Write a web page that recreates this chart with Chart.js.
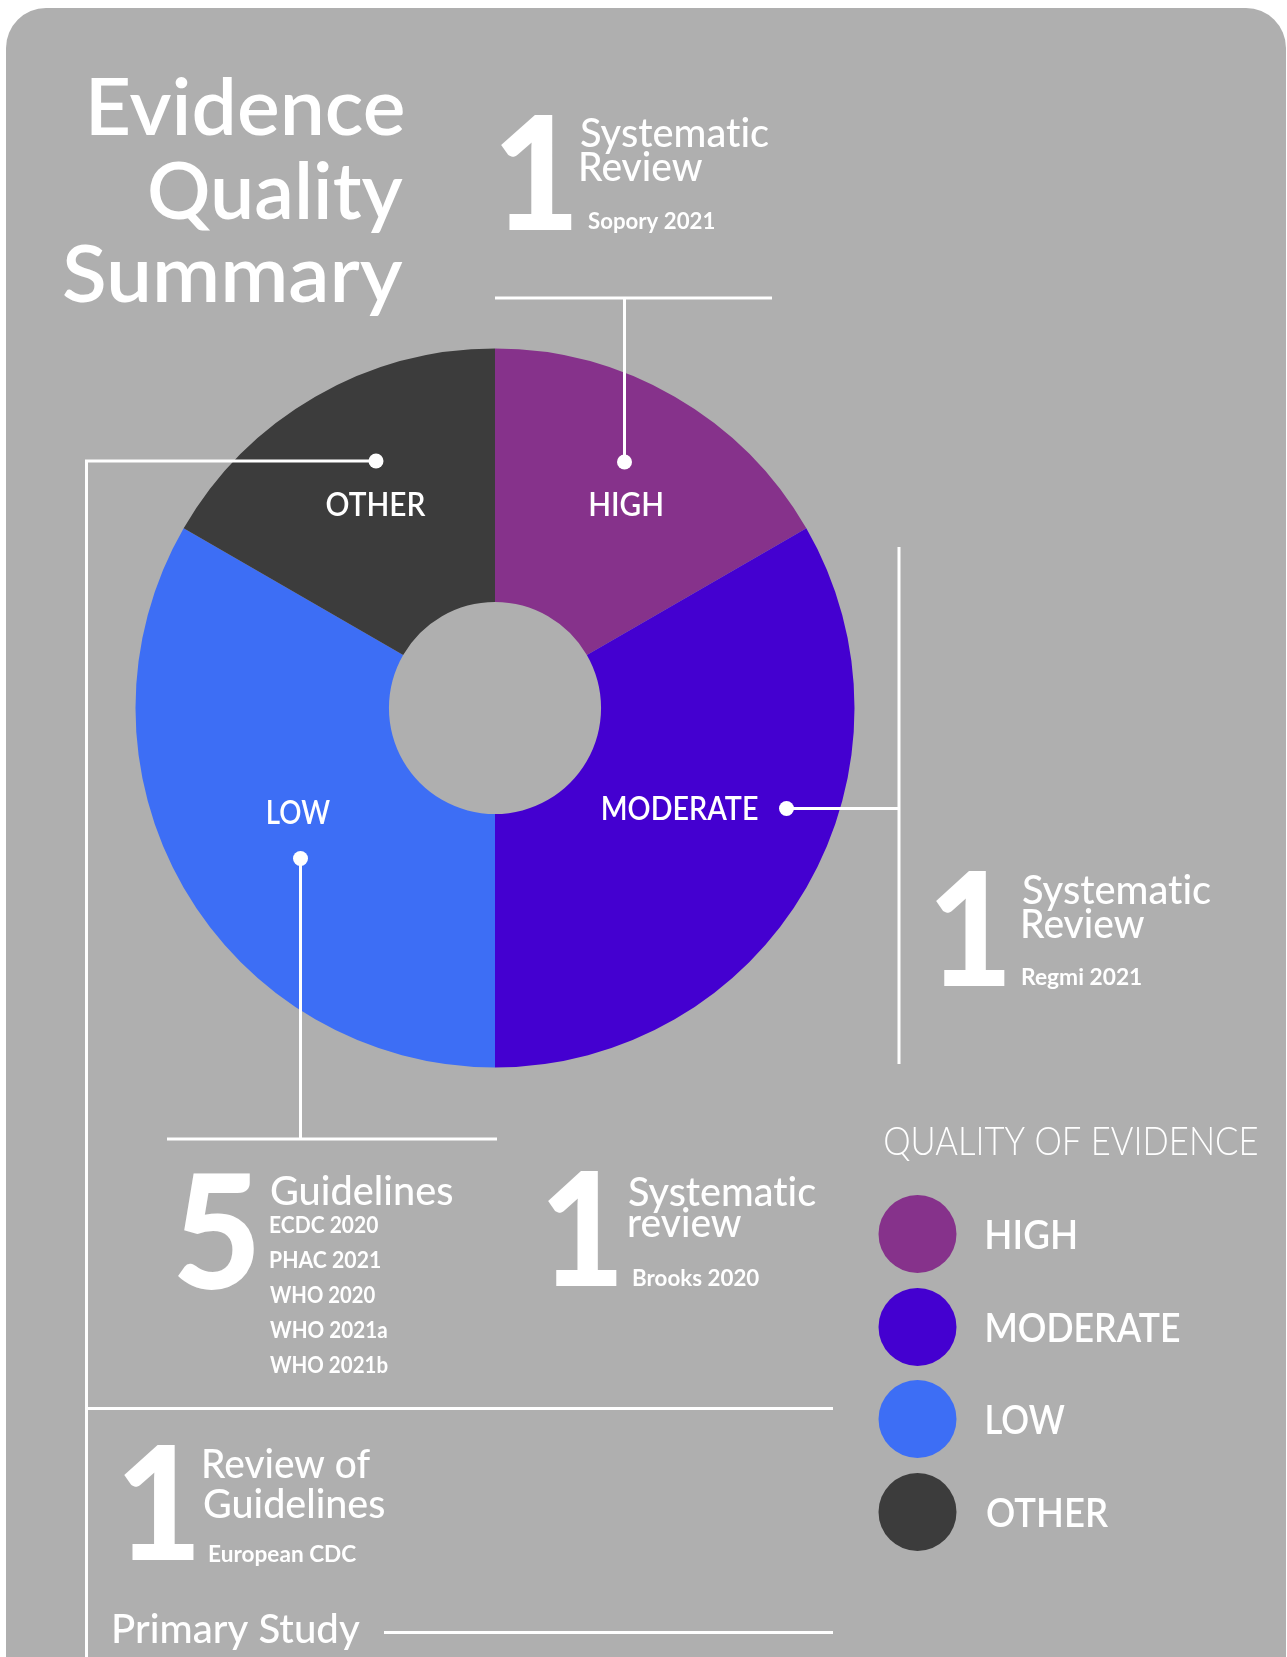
<!DOCTYPE html>
<html>
<head>
<meta charset="utf-8">
<title>Evidence Quality Summary</title>
<script src="https://cdn.jsdelivr.net/npm/chart.js@4.4.1/dist/chart.umd.min.js"></script>
<style>
  html, body { margin: 0; padding: 0; background: #fff; }
  #wrap { position: relative; width: 1287px; height: 1657px; overflow: hidden; }
  canvas { display: block; }
</style>
</head>
<body>
<div id="wrap"><canvas id="evidenceChart" width="1287" height="1657"></canvas></div>
<script>
// Quality of evidence: share of the ring for each grade
const categories = ['HIGH', 'MODERATE', 'LOW', 'OTHER'];
const shares = [1, 2, 2, 1];
const sliceColors = ['#86328b', '#4400d0', '#3d6ef5', '#3c3c3c'];

// Sources listed under each grade
const highSources = ['Sopory 2021'];
const moderateSources = ['Regmi 2021'];
const lowGuidelines = ['ECDC 2020', 'PHAC 2021', 'WHO 2020', 'WHO 2021a', 'WHO 2021b'];
const lowReviews = ['Brooks 2020'];
const otherReviews = ['European CDC'];

const FONT = 'Lato, "Noto Sans", sans-serif';
const PANEL = '#afafaf';

// draws text so that its ink spans exactly w pixels starting at x (or ending at x)
function fitText(ctx, s, x, y, font, w, align) {
  ctx.font = font + ' ' + FONT;
  // a tiny letter spacing keeps Lato from joining "ti" into a ligature
  if ('letterSpacing' in ctx) ctx.letterSpacing = '0.01px';
  const m = ctx.measureText(s);
  const ink = m.actualBoundingBoxLeft + m.actualBoundingBoxRight;
  const k = w ? w / ink : 1;
  let left = x;
  if (align === 'right') left = x - ink * k;
  if (align === 'center') left = x - ink * k / 2;
  ctx.save();
  ctx.translate(left + m.actualBoundingBoxLeft * k, y);
  ctx.scale(k, 1);
  ctx.textAlign = 'left';
  ctx.textBaseline = 'alphabetic';
  ctx.fillText(s, 0, 0);
  ctx.restore();
}

function line(ctx, pts) {
  ctx.beginPath();
  ctx.moveTo(pts[0][0], pts[0][1]);
  for (let i = 1; i < pts.length; i++) ctx.lineTo(pts[i][0], pts[i][1]);
  ctx.stroke();
}

function dot(ctx, x, y) {
  ctx.beginPath();
  ctx.arc(x, y, 7.5, 0, Math.PI * 2);
  ctx.fill();
}

// grey card behind everything
const panelPlugin = {
  id: 'panel',
  beforeDraw(chart) {
    const ctx = chart.ctx;
    const x = 6, y = 8, w = 1280, h = 1720, r = 40;
    ctx.save();
    ctx.fillStyle = PANEL;
    ctx.beginPath();
    ctx.moveTo(x + r, y);
    ctx.arcTo(x + w, y, x + w, y + h, r);
    ctx.arcTo(x + w, y + h, x, y + h, r);
    ctx.arcTo(x, y + h, x, y, r);
    ctx.arcTo(x, y, x + w, y, r);
    ctx.closePath();
    ctx.fill();
    ctx.restore();
  }
};

// slice names, leader lines, study counts and the legend
const annotationPlugin = {
  id: 'annotations',
  afterDatasetsDraw(chart) {
    const ctx = chart.ctx;
    const labels = chart.data.labels;
    const colors = chart.data.datasets[0].backgroundColor;
    ctx.save();
    ctx.fillStyle = '#fff';
    ctx.strokeStyle = '#fff';
    ctx.lineWidth = 3;

    // labels inside the ring
    const slicePos = [[626, 515.5, 72], [680, 819.5, 155], [299, 823.5, 63], [376, 516, 99]];
    labels.forEach((lab, i) => {
      const p = slicePos[i];
      fitText(ctx, lab, p[0], p[1], '600 33px', p[2], 'center');
    });

    // leader lines
    line(ctx, [[495, 298], [772, 298]]);
    line(ctx, [[624.5, 298], [624.5, 462]]);
    dot(ctx, 624.5, 462);

    line(ctx, [[376, 461], [86.5, 461], [86.5, 1670]]);
    dot(ctx, 376, 461);

    line(ctx, [[786.5, 808.5], [899, 808.5]]);
    line(ctx, [[899, 547], [899, 1064]]);
    dot(ctx, 786.5, 808.5);

    line(ctx, [[300.5, 858.5], [300.5, 1139]]);
    line(ctx, [[167, 1139], [497, 1139]]);
    dot(ctx, 300.5, 858.5);

    line(ctx, [[86.5, 1408.5], [833, 1408.5]]);
    line(ctx, [[384, 1632.5], [833, 1632.5]]);

    // title
    fitText(ctx, 'Evidence', 403, 135, '600 78px', 312, 'right');
    fitText(ctx, 'Quality', 403, 219, '600 78px', 253, 'right');
    fitText(ctx, 'Summary', 403, 302, '600 78px', 339, 'right');

    // HIGH
    fitText(ctx, '1', 501, 230, '900 158px', 71);
    fitText(ctx, 'Systematic', 581, 147, '500 40px', 188);
    fitText(ctx, 'Review', 581, 181, '500 40px', 121);
    fitText(ctx, highSources[0], 588, 229, '700 23px', 126);

    // MODERATE
    fitText(ctx, '1', 936, 986, '900 158px', 69);
    fitText(ctx, 'Systematic', 1023, 904, '500 40px', 188);
    fitText(ctx, 'Review', 1023, 938, '500 40px', 121);
    fitText(ctx, moderateSources[0], 1022, 985, '700 23px', 119);

    // LOW
    fitText(ctx, String(lowGuidelines.length), 178, 1289, '900 158px', 76);
    fitText(ctx, 'Guidelines', 271, 1204.5, '500 40px', 181);
    const gw = [108, 110, 105, 117, 118];
    lowGuidelines.forEach((g, i) => {
      fitText(ctx, g, 270, 1233 + i * 35, '700 23px', gw[i]);
    });
    fitText(ctx, '1', 548, 1286, '900 158px', 69);
    fitText(ctx, 'Systematic', 629, 1205.5, '500 40px', 187);
    fitText(ctx, 'review', 629, 1237, '500 40px', 112);
    fitText(ctx, lowReviews[0], 633, 1286, '700 23px', 126);

    // OTHER
    fitText(ctx, '1', 124, 1560, '900 158px', 70);
    fitText(ctx, 'Review of', 204, 1478, '500 40px', 166);
    fitText(ctx, 'Guidelines', 204, 1517.5, '500 40px', 180);
    fitText(ctx, otherReviews[0], 209, 1562, '700 23px', 147);
    fitText(ctx, 'Primary Study', 114, 1643, '500 40px', 246);

    // legend
    fitText(ctx, 'QUALITY OF EVIDENCE', 885, 1155, '300 39px', 372);
    const legY = [1234, 1327, 1419, 1512];
    const legW = [88, 192, 78, 121];
    labels.forEach((lab, i) => {
      ctx.fillStyle = colors[i];
      ctx.beginPath();
      ctx.arc(917.5, legY[i], 39, 0, Math.PI * 2);
      ctx.fill();
      ctx.fillStyle = '#fff';
      fitText(ctx, lab, 987, legY[i] + 14.5, '600 41px', legW[i]);
    });
    ctx.restore();
  }
};

const ctx = document.getElementById('evidenceChart').getContext('2d');
const evidenceChart = new Chart(ctx, {
  type: 'doughnut',
  data: {
    labels: categories,
    datasets: [{
      data: shares,
      backgroundColor: sliceColors,
      borderWidth: 0,
      hoverOffset: 0,
      offset: 0
    }]
  },
  options: {
    responsive: false,
    animation: false,
    devicePixelRatio: 1,
    events: [],
    cutout: '29.5%',
    layout: {
      padding: { left: 135.5, top: 348.5, right: 432.5, bottom: 589.5 }
    },
    plugins: {
      legend: { display: false },
      tooltip: { enabled: false }
    }
  },
  plugins: [panelPlugin, annotationPlugin]
});
</script>
</body>
</html>
